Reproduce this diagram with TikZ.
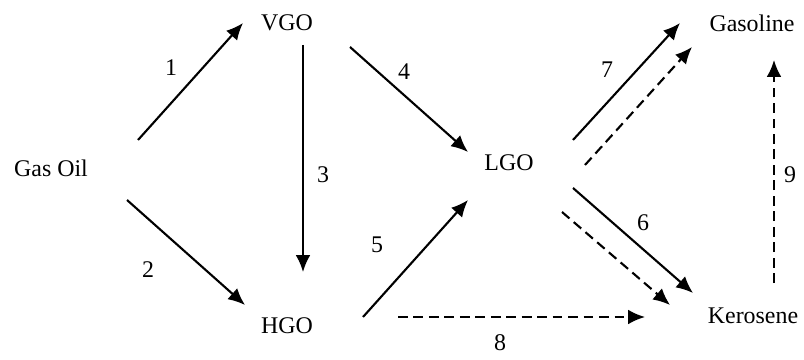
\documentclass[tikz,border=0pt]{standalone}
\usepackage{fontspec}
\setmainfont{Liberation Serif}
\usetikzlibrary{arrows.meta}
\tikzset{
  lump/.style={font=\fontsize{17}{20}\selectfont,inner sep=0pt},
  knum/.style={font=\fontsize{17}{20}\selectfont,inner sep=0pt},
  rx/.style={-{Latex[length=12pt,width=10.5pt]},line width=1.5pt},
  rxd/.style={rx,dash pattern=on 7pt off 4pt},
}
\begin{document}
\begin{tikzpicture}[x=0.25mm,y=-0.25mm]
\useasboundingbox (0,0) rectangle (804,360);
% lumps
\node[lump] (go)  at (51,168)  {Gas Oil};
\node[lump] (vgo) at (287,23)  {VGO};
\node[lump] (hgo) at (287,326) {HGO};
\node[lump] (lgo) at (509,163) {LGO};
\node[lump] (gsl) at (752,23)  {Gasoline};
\node[lump] (ker) at (753,316) {Kerosene};
% reaction end points
\coordinate (r1a) at (138,140); \coordinate (r1b) at (243,23);
\coordinate (r2a) at (127,200); \coordinate (r2b) at (245,305);
\coordinate (r3a) at (303,45);  \coordinate (r3b) at (303,272);
\coordinate (r4a) at (350,47);  \coordinate (r4b) at (468,152);
\coordinate (r5a) at (363,317); \coordinate (r5b) at (468,200);
\coordinate (r7a) at (573,140); \coordinate (r7b) at (680,23);
\coordinate (d7a) at (585,165); \coordinate (d7b) at (692,47);
\coordinate (r6a) at (573,188); \coordinate (r6b) at (693,293);
\coordinate (d6a) at (562,212); \coordinate (d6b) at (670,305);
\coordinate (r8a) at (398,317); \coordinate (r8b) at (645,317);
\coordinate (r9a) at (774,283); \coordinate (r9b) at (774,60);
% solid paths
\draw[rx] (r1a) -- (r1b);
\draw[rx] (r2a) -- (r2b);
\draw[rx] (r3a) -- (r3b);
\draw[rx] (r4a) -- (r4b);
\draw[rx] (r5a) -- (r5b);
\draw[rx] (r7a) -- (r7b);
\draw[rx] (r6a) -- (r6b);
% dashed paths
\draw[rxd] (d7a) -- (d7b);
\draw[rxd] (d6a) -- (d6b);
\draw[rxd] (r8a) -- (r8b);
\draw[rxd] (r9a) -- (r9b);
% rate numbers
\node[knum] (k1) at (171,68)  {1};
\node[knum] (k2) at (148,270) {2};
\node[knum] (k3) at (323,175) {3};
\node[knum] (k4) at (404,72)  {4};
\node[knum] (k5) at (377,245) {5};
\node[knum] (k6) at (643,223) {6};
\node[knum] (k7) at (607,70)  {7};
\node[knum] (k8) at (500,343) {8};
\node[knum] (k9) at (790,175) {9};
\end{tikzpicture}
\end{document}
